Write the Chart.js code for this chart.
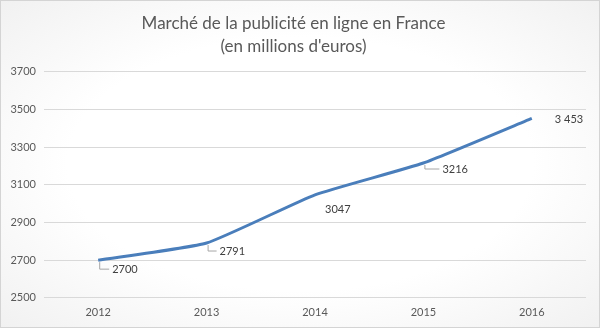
<!DOCTYPE html>
<html>
<head>
<meta charset="utf-8">
<script src="https://cdn.jsdelivr.net/npm/chart.js@4/dist/chart.umd.min.js"></script>
<style>
  html, body { margin: 0; padding: 0; background: #fff; }
  #wrap {
    width: 600px; height: 328px; box-sizing: border-box;
    border: 1px solid #d4d4d4;
    background: radial-gradient(ellipse at center, #ffffff 55%, #f1f1f1 100%);
    position: relative;
  }
</style>
</head>
<body>
<div id="wrap"><canvas id="chart"></canvas></div>
<script>
  const years = ['2012', '2013', '2014', '2015', '2016'];
  const marketValues = [2700, 2791, 3047, 3216, 3453];
  const valueLabels = ['2700', '2791', '3047', '3216', '3 453'];

  // where each label sits relative to its point, and whether it gets a leader line
  const labelOffsets = [
    { dx: 14, dy: 9, leader: true },
    { dx: 13, dy: 8, leader: true },
    { dx: 10, dy: 15, leader: false },
    { dx: 19, dy: 6, leader: true },
    { dx: 23, dy: 1, leader: false }
  ];

  const dataLabels = {
    id: 'dataLabels',
    afterDatasetsDraw(chart) {
      const ctx = chart.ctx;
      const meta = chart.getDatasetMeta(0);
      ctx.save();
      ctx.font = '11px Lato, "Open Sans", sans-serif';
      ctx.fillStyle = '#404040';
      ctx.strokeStyle = '#a6a6a6';
      ctx.lineWidth = 1;
      ctx.textBaseline = 'middle';
      meta.data.forEach((pt, i) => {
        const o = labelOffsets[i];
        const lx = pt.x + o.dx, ly = pt.y + o.dy;
        if (o.leader) {
          ctx.beginPath();
          ctx.moveTo(pt.x + 1.5, pt.y + 2);
          ctx.lineTo(pt.x + 1.5, ly);
          ctx.lineTo(lx - 3, ly);
          ctx.stroke();
        }
        ctx.fillText(valueLabels[i], lx, ly);
      });
      ctx.restore();
    }
  };

  new Chart(document.getElementById('chart'), {
    type: 'line',
    data: {
      labels: years,
      datasets: [{
        data: marketValues,
        borderColor: '#4a7ebb',
        borderWidth: 3,
        tension: 0.15,
        pointRadius: 0,
        fill: false
      }]
    },
    options: {
      responsive: true,
      maintainAspectRatio: false,
      animation: false,
      layout: { padding: { top: 11, right: 13, bottom: 0, left: 0 } },
      plugins: {
        legend: { display: false },
        tooltip: { enabled: false },
        title: {
          display: true,
          text: ['Marché de la publicité en ligne en France', "(en millions d'euros)"],
          color: '#595959',
          font: { family: 'Lato, "Open Sans", sans-serif', size: 17, weight: 'normal', lineHeight: 1.35 },
          padding: { top: 0, bottom: 14 }
        }
      },
      scales: {
        x: {
          offset: true,
          grid: { display: false, drawTicks: false },
          border: { display: false },
          ticks: { color: '#595959', font: { family: 'Lato, "Open Sans", sans-serif', size: 11 }, padding: 8 }
        },
        y: {
          min: 2500,
          max: 3700,
          ticks: {
            stepSize: 200,
            color: '#595959',
            font: { family: 'Lato, "Open Sans", sans-serif', size: 11 },
            padding: 8,
            callback: v => String(v)
          },
          grid: { color: '#d9d9d9', drawTicks: false },
          border: { display: false },
          afterFit(scale) { scale.width = 43; }
        }
      }
    },
    plugins: [dataLabels]
  });
</script>
</body>
</html>
